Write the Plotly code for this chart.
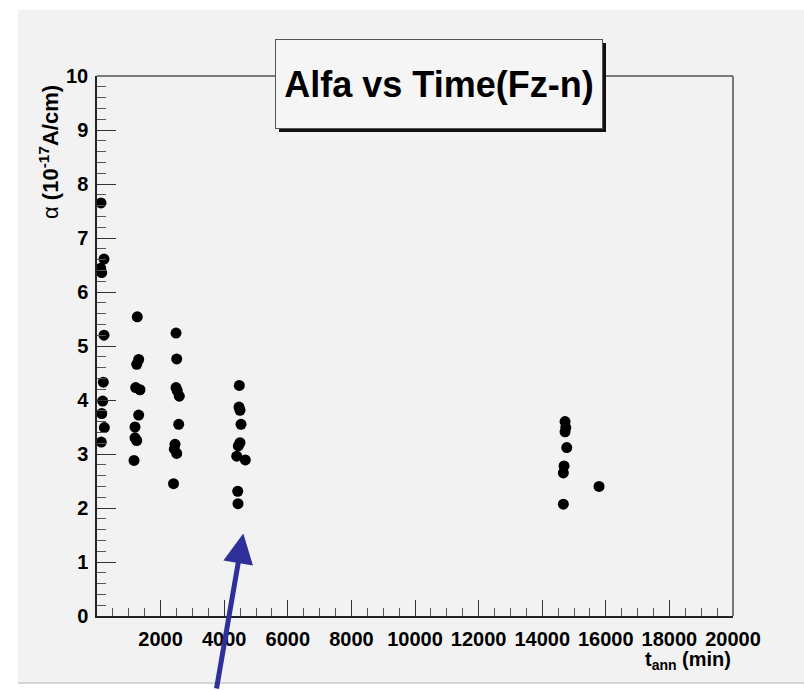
import plotly.graph_objects as go

# ---- data (annealing time in min, alpha in 1e-17 A/cm) ----
t_ann = [126, 220, 116, 148, 220, 198, 179, 148, 230, 135,
         1267, 1311, 1249, 1217, 1352, 1311, 1195, 1195, 1249, 1164,
         2485, 2507, 2485, 2525, 2588, 2569, 2453, 2431, 2507, 2406,
         4475, 4466, 4497, 4529, 4497, 4444, 4394, 4664, 4425, 4434,
         14719, 14741, 14719, 14772, 14687, 14665, 15788, 14665]
alpha = [7.65, 6.61, 6.44, 6.36, 5.20, 4.33, 3.98, 3.75, 3.49, 3.22,
         5.54, 4.75, 4.66, 4.23, 4.19, 3.72, 3.50, 3.30, 3.25, 2.88,
         5.24, 4.76, 4.23, 4.17, 4.07, 3.55, 3.18, 3.09, 3.01, 2.45,
         4.27, 3.87, 3.81, 3.55, 3.21, 3.15, 2.96, 2.89, 2.31, 2.08,
         3.60, 3.49, 3.41, 3.12, 2.78, 2.65, 2.40, 2.07]

x_tickvals = [2000, 4000, 6000, 8000, 10000, 12000, 14000, 16000, 18000, 20000]
x_ticktext = [str(v) for v in x_tickvals]
y_tickvals = [0, 1, 2, 3, 4, 5, 6, 7, 8, 9, 10]
y_ticktext = [str(v) for v in y_tickvals]

title_text = "Alfa vs Time(Fz-n)"
arrow_tip = (4600, 1.53)

BG = "#f2f2f2"
fig = go.Figure()
fig.add_trace(go.Scatter(
    x=t_ann, y=alpha, mode="markers",
    marker=dict(color="black", size=11, line=dict(width=0)),
    cliponaxis=False, showlegend=False, hoverinfo="skip"))

tickfont = dict(family="Liberation Sans, Arial, sans-serif", size=20, color="black", weight="bold")

fig.update_layout(
    width=804, height=690,
    margin=dict(l=97, r=71, t=76, b=74, autoexpand=False),
    paper_bgcolor="white", plot_bgcolor=BG,
    xaxis=dict(range=[0, 20000], showgrid=False, zeroline=False,
               showline=True, linecolor="#222", linewidth=1.5,
               ticks="inside", ticklen=16, tickcolor="#333", tickwidth=1,
               tickvals=x_tickvals, ticktext=x_ticktext, tickfont=tickfont,
               minor=dict(ticks="inside", dtick=500, ticklen=8, tickcolor="#555", tickwidth=1),
               ticklabelstandoff=4),
    yaxis=dict(range=[0, 10], showgrid=False, zeroline=False,
               showline=True, linecolor="#222", linewidth=1.5,
               ticks="inside", ticklen=19, tickcolor="#333", tickwidth=1,
               tickvals=y_tickvals, ticktext=y_ticktext, tickfont=tickfont,
               minor=dict(ticks="inside", dtick=0.2, ticklen=9, tickcolor="#555", tickwidth=1),
               ticklabelstandoff=3),
)

W, H = 636.0, 540.0  # plot area size in px
def px(xp):
    return (xp - 97) / W
def py(yp):
    return (616 - yp) / H

# gray canvas
fig.add_shape(type="rect", xref="paper", yref="paper",
              x0=px(18), x1=px(830), y0=py(683), y1=py(10),
              fillcolor=BG, line=dict(width=0), layer="below")
fig.add_shape(type="line", xref="paper", yref="paper",
              x0=px(18), x1=px(830), y0=py(683), y1=py(683),
              line=dict(color="#d4d4d4", width=2), layer="below")
# frame top/right
fig.add_shape(type="line", xref="x domain", yref="y domain", x0=0, x1=1, y0=1, y1=1,
              line=dict(color="#7a7a7a", width=2), layer="above")
fig.add_shape(type="line", xref="x domain", yref="y domain", x0=1, x1=1, y0=0, y1=1,
              line=dict(color="#7a7a7a", width=2), layer="above")
# title shadow
fig.add_shape(type="rect", xref="paper", yref="paper",
              x0=px(279), x1=px(606), y0=py(132), y1=py(43),
              fillcolor="#111", line=dict(width=0), layer="above")

fig.add_annotation(
    text="<b>" + title_text + "</b>", xref="paper", yref="paper",
    x=px(439), y=py(84), xanchor="center", yanchor="middle",
    width=326, height=88, showarrow=False,
    bgcolor="#f5f5f5", bordercolor="#555", borderwidth=1, borderpad=0,
    font=dict(family="Liberation Sans, Arial, sans-serif", size=36, color="black"))

fig.add_annotation(
    text="α <b>(10<sup>-17</sup>A/cm)</b>", xref="paper", yref="paper",
    x=px(49), y=py(152), xanchor="center", yanchor="middle",
    textangle=-90, showarrow=False,
    font=dict(family="Liberation Sans, Arial, sans-serif", size=22, color="black"))

fig.add_annotation(
    text="<b>t<sub>ann</sub> (min)</b>", xref="paper", yref="paper",
    x=1, y=py(660), xanchor="right", yanchor="middle", showarrow=False,
    font=dict(family="Liberation Sans, Arial, sans-serif", size=20, color="black"))

fig.add_annotation(
    x=arrow_tip[0], y=arrow_tip[1], xref="x", yref="y", text="",
    showarrow=True, arrowhead=2, arrowsize=1.2, arrowwidth=5,
    arrowcolor="#2f2f9a", ax=-27, ay=158, standoff=0)

fig.write_html("out.html", config={"displayModeBar": False},
               post_script="document.body.style.margin='0';document.body.style.overflow='hidden';")
